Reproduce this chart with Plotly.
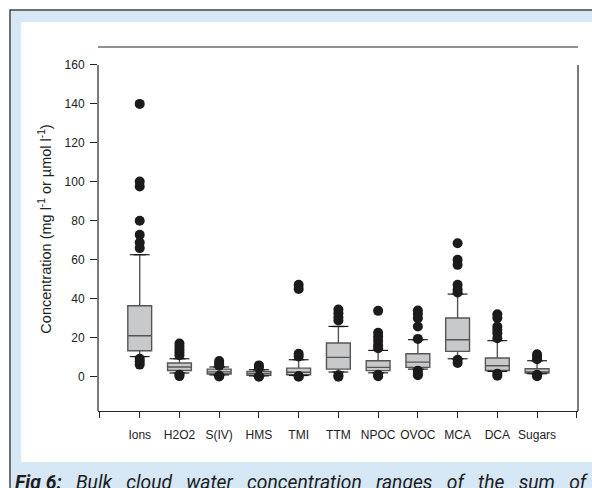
import plotly.graph_objects as go

# Category labels along the x axis
categories = ["Ions", "H2O2", "S(IV)", "HMS", "TMI", "TTM", "NPOC", "OVOC", "MCA", "DCA", "Sugars"]

# Box statistics per category (concentration, mg/l or umol/l)
q1 = [13.3, 3.2, 1.4, 0.7, 1.0, 3.9, 3.1, 4.8, 13.0, 3.2, 1.9]
median = [21.0, 5.0, 2.5, 1.6, 2.3, 9.9, 4.8, 7.5, 19.0, 5.6, 2.5]
q3 = [36.4, 7.0, 3.9, 2.7, 4.4, 17.3, 8.2, 11.8, 30.1, 9.6, 4.1]
lower_whisker = [10.3, 1.9, 0.9, 0.4, 0.6, 2.4, 2.0, 3.9, 9.2, 2.7, 1.5]
upper_whisker = [62.6, 9.2, 5.0, 3.6, 8.7, 25.8, 13.5, 19.0, 42.4, 18.5, 8.2]

# Outlying observations per category
outliers = [
    [140, 100.2, 97.6, 80, 72.8, 68.9, 66, 9.2, 7.8, 6.2],
    [17.0, 15.5, 14.0, 12.5, 11.0, 1.0, 0.3],
    [8.0, 6.8, 5.6, 0.5, 0.1],
    [5.8, 4.6, 0.2, 0.0],
    [47.2, 45.0, 11.8, 10.4, 0.4, 0.0],
    [34.5, 32.5, 30.5, 28.8, 0.8, 0.0],
    [33.8, 22.5, 20.5, 18.5, 16.2, 14.6, 1.0, 0.2],
    [34.0, 32.2, 30.0, 25.8, 19.4, 3.0, 1.6, 0.8],
    [68.5, 60.0, 57.4, 47.2, 44.8, 43.2, 8.7, 7.0],
    [32.0, 30.2, 25.8, 24.0, 22.3, 19.7, 1.5, 0.5],
    [11.5, 10.2, 9.0, 1.0, 0.2],
]

y_ticks = [0, 20, 40, 60, 80, 100, 120, 140, 160]
caption_words = ["<b>Fig 6:</b>", "Bulk", "cloud", "water", "concentration",
                 "ranges", "of", "the", "sum", "of"]

idx = list(range(len(categories)))
CAP_HALF = 0.25
Y_RANGE = [-17.6, 169.2]

fig = go.Figure()

fig.add_trace(go.Box(
    x=idx, q1=q1, median=median, q3=q3,
    lowerfence=lower_whisker, upperfence=upper_whisker,
    width=0.6, boxpoints=False,
    fillcolor="#c8c9cb",
    line=dict(color="#555555", width=1.4),
    showlegend=False, hoverinfo="skip",
))

# Whisker caps
cap_x, cap_y = [], []
for i, lo, hi in zip(idx, lower_whisker, upper_whisker):
    for v in (lo, hi):
        cap_x += [i - CAP_HALF, i + CAP_HALF, None]
        cap_y += [v, v, None]
fig.add_trace(go.Scatter(x=cap_x, y=cap_y, mode="lines",
                         line=dict(color="#111111", width=1.1),
                         showlegend=False, hoverinfo="skip"))

# Outlier dots
ox, oy = [], []
for i, vals in zip(idx, outliers):
    ox += [i] * len(vals)
    oy += vals
fig.add_trace(go.Scatter(x=ox, y=oy, mode="markers",
                         marker=dict(color="#1c1a1b", size=10, line=dict(width=0)),
                         showlegend=False, hoverinfo="skip"))

W, H = 592, 488
L, R, T, B = 98, 14, 47, 77
pw, ph = W - L - R, H - T - B


def px(xp):
    return (xp - L) / pw


def py(yp):
    return (H - B - yp) / ph


shapes = [
    # light blue frame with dark border
    dict(type="rect", xref="paper", yref="paper", layer="below",
         x0=px(10), x1=px(600), y0=py(500), y1=py(10),
         fillcolor="#d6e8f5", line=dict(color="#444444", width=1.5)),
    # white inner panel
    dict(type="rect", xref="paper", yref="paper", layer="below",
         x0=px(21), x1=px(600), y0=py(462), y1=py(22),
         fillcolor="#ffffff", line=dict(width=0)),
    # top rule
    dict(type="line", xref="x domain", yref="y domain", x0=0, x1=1, y0=1, y1=1,
         line=dict(color="#222222", width=1.2)),
    # left and right axis lines
    dict(type="line", xref="x domain", yref="y", x0=0, x1=0, y0=Y_RANGE[0], y1=y_ticks[-1],
         line=dict(color="#222222", width=1.2)),
    dict(type="line", xref="x domain", yref="y", x0=1, x1=1, y0=Y_RANGE[0], y1=y_ticks[-1],
         line=dict(color="#222222", width=1.2)),
]

gap = "&nbsp;" * 3
caption = gap.join(caption_words)

fig.update_layout(
    width=W, height=H,
    margin=dict(l=L, r=R, t=T, b=B, autoexpand=False),
    paper_bgcolor="#ffffff", plot_bgcolor="rgba(0,0,0,0)",
    font=dict(family="Liberation Sans, Arial, sans-serif", size=12, color="#222222"),
    shapes=shapes,
    xaxis=dict(
        range=[-1.05, 11.03],
        tickvals=idx,
        ticktext=categories,
        ticks="outside", ticklen=6, tickcolor="#222222", tickwidth=1,
        ticklabelstandoff=6,
        minor=dict(tickvals=[-1, len(categories)], ticks="outside", ticklen=6,
                   tickcolor="#222222", tickwidth=1, showgrid=False),
        showline=True, linecolor="#222222", linewidth=1.2,
        showgrid=False, zeroline=False,
        tickfont=dict(size=12, color="#222222"),
    ),
    yaxis=dict(
        range=Y_RANGE,
        tickvals=y_ticks,
        ticks="outside", ticklen=7, tickcolor="#222222", tickwidth=1,
        ticklabelstandoff=3,
        showline=False, showgrid=False, zeroline=False,
        tickfont=dict(size=12, color="#222222"),
        title=dict(text="Concentration (mg l<sup>-1</sup> or µmol l<sup>-1</sup>)",
                   font=dict(size=14.5, color="#222222"), standoff=9),
    ),
    annotations=[dict(
        text=caption, xref="paper", yref="paper",
        x=px(13), y=py(469), xanchor="left", yanchor="top",
        showarrow=False,
        font=dict(family="Roboto, sans-serif", size=19.3, color="#1e1e1e", style="italic"),
    )],
)

fig.write_html("out.html")
